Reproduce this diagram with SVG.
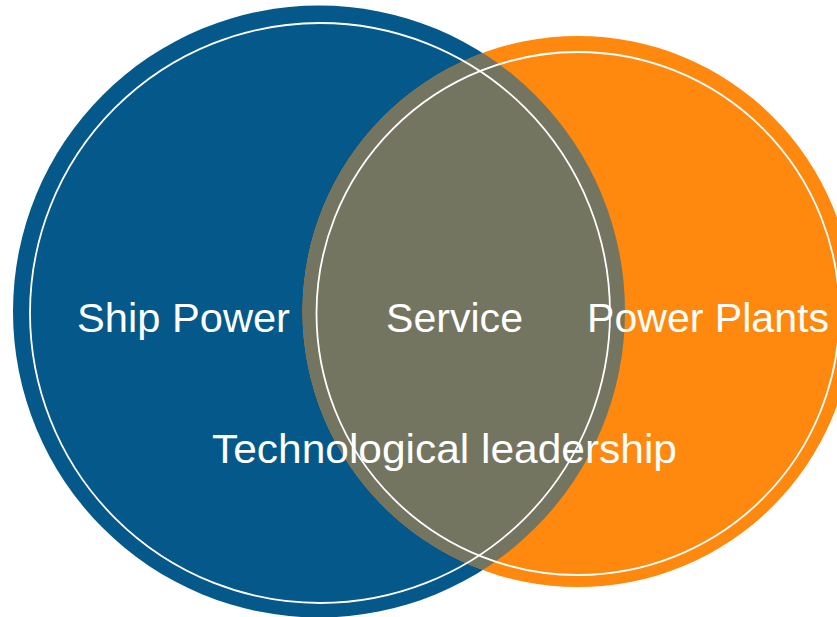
<svg xmlns="http://www.w3.org/2000/svg" width="837" height="617" viewBox="0 0 837 617">
  <style>
    .lbl { font-family: "Liberation Sans", Arial, sans-serif; font-size: 40px; fill: #ffffff; }
    .ring { fill: none; stroke: #ffffff; stroke-width: 1.8; }
  </style>
  <defs>
    <clipPath id="orangeClip">
      <circle cx="578" cy="311.5" r="275.5"/>
    </clipPath>
  </defs>
  <rect width="837" height="617" fill="#ffffff"/>
  <g id="ship-power">
    <circle cx="319" cy="311.5" r="306" fill="#04588A"/>
  </g>
  <g id="power-plants">
    <circle cx="578" cy="311.5" r="275.5" fill="#FF890E"/>
  </g>
  <g id="service">
    <circle cx="319" cy="311.5" r="306" fill="#737561" clip-path="url(#orangeClip)"/>
  </g>
  <g id="rings">
    <circle class="ring" cx="320" cy="313" r="290"/>
    <circle class="ring" cx="578" cy="313.5" r="261.5"/>
  </g>
  <g id="labels">
    <text class="lbl" x="77" y="332" textLength="213" lengthAdjust="spacingAndGlyphs">Ship Power</text>
    <text class="lbl" x="386" y="332" textLength="137" lengthAdjust="spacingAndGlyphs">Service</text>
    <text class="lbl" x="587" y="332" textLength="242" lengthAdjust="spacingAndGlyphs">Power Plants</text>
  </g>
  <g id="technological-leadership">
    <text class="lbl" x="212" y="463" textLength="465" lengthAdjust="spacingAndGlyphs">Technological leadership</text>
  </g>
</svg>
